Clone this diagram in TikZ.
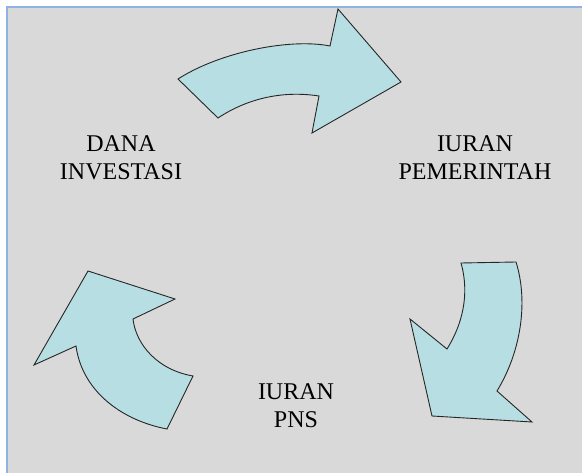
\documentclass[tikz,border=0pt]{standalone}
\usepackage{fontspec}
\setmainfont{Liberation Serif}
\definecolor{bggray}{RGB}{217,217,217}
\definecolor{frameblue}{RGB}{142,180,227}
\definecolor{arrowfill}{RGB}{183,222,226}
\begin{document}
\begin{tikzpicture}[x=1pt,y=-1pt,
  arrowshape/.style={fill=arrowfill, draw=black!85, line width=0.9pt, line join=miter},
  lbl/.style={font=\fontsize{24}{28}\selectfont, anchor=base, inner sep=0pt, text=black}]
\useasboundingbox (0,0) rectangle (582,473);
\fill[white] (0,0) rectangle (582,473);
\fill[bggray] (7,7) rectangle (582,473);
\draw[frameblue, line width=1.5pt] (7,473) -- (7,7) -- (582,7);
% top arrow
\draw[arrowshape] (178,79) .. controls (220,52) and (290,38) .. (330,46) -- (338,9) -- (401,82) -- (312,133) -- (319,96) .. controls (280,90) and (245,100) .. (218,118) -- cycle;
% right arrow
\draw[arrowshape] (461,263) -- (516,262) .. controls (528,300) and (522,350) .. (497,391) -- (532,422) -- (432,416) -- (410,319) -- (447,349) .. controls (462,325) and (470,295) .. (461,263) -- cycle;
% left arrow
\draw[arrowshape] (193,376) -- (167,429) .. controls (120,420) and (82,390) .. (76,346) -- (34,365) -- (88,271) -- (175,299) -- (133,319) .. controls (136,345) and (158,370) .. (193,376) -- cycle;
% labels
\node[lbl] (dana1) at (121,152) {DANA};
\node[lbl] (dana2) at (121,180) {INVESTASI};
\node[lbl] (iuranp1) at (475,152) {IURAN};
\node[lbl] (iuranp2) at (475,180) {PEMERINTAH};
\node[lbl] (iurann1) at (296,400) {IURAN};
\node[lbl] (iurann2) at (296,428) {PNS};
\end{tikzpicture}
\end{document}
